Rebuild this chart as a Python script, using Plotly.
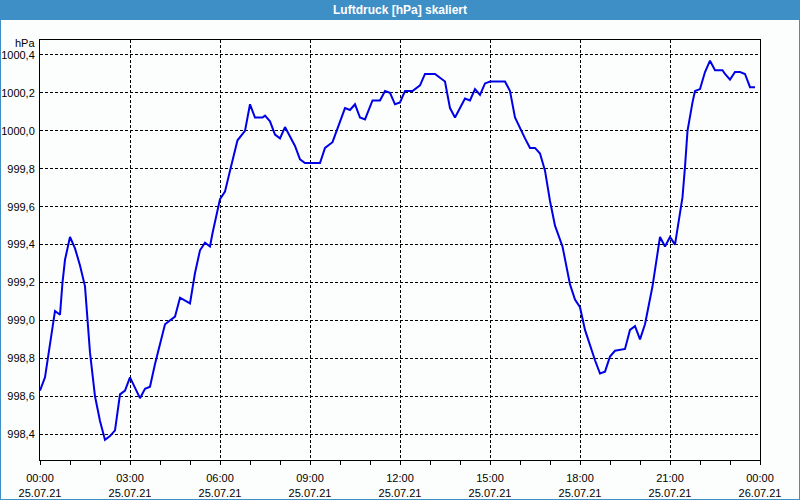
import plotly.graph_objects as go

times = ["00:00","00:10","00:30","00:40","00:45","00:50","01:00","01:10","01:20","01:30",
         "01:40","01:50","02:00","02:10","02:20","02:30","02:40","02:50","03:00","03:20",
         "03:30","03:40","03:50","04:10","04:30","04:40","05:00","05:10","05:20","05:30",
         "05:40","05:45","06:00","06:10","06:20","06:35","06:50","07:00","07:10","07:25",
         "07:30","07:40","07:50","08:00","08:10","08:30","08:40","08:50","09:10","09:20",
         "09:30","09:45","10:10","10:20","10:30","10:40","10:50","11:05","11:20","11:30",
         "11:40","11:50","12:00","12:10","12:25","12:40","12:50","13:10","13:30","13:40",
         "13:50","14:10","14:20","14:30","14:40","14:50","15:00","15:30","15:40","15:50",
         "16:10","16:20","16:30","16:40","16:50","17:00","17:10","17:25","17:40","17:50",
         "18:00","18:10","18:30","18:40","18:50","19:00","19:10","19:30","19:40","19:50",
         "20:00","20:10","20:25","20:40","20:50","21:00","21:10","21:15","21:25","21:30",
         "21:35","21:45","21:50","22:00","22:10","22:20","22:30","22:45","22:50","23:00",
         "23:10","23:20","23:30","23:40","23:50"]
pressure = [998.63,998.70,999.05,999.03,999.20,999.32,999.44,999.38,999.29,999.18,
            998.83,998.60,998.47,998.37,998.39,998.42,998.61,998.63,998.70,998.59,
            998.64,998.65,998.77,998.98,999.02,999.12,999.09,999.25,999.37,999.41,
            999.39,999.46,999.64,999.68,999.79,999.95,1000.00,1000.14,1000.07,1000.07,
            1000.08,1000.05,999.98,999.96,1000.02,999.92,999.85,999.83,999.83,999.83,
            999.91,999.94,1000.12,1000.11,1000.14,1000.07,1000.06,1000.16,1000.16,1000.21,
            1000.20,1000.14,1000.15,1000.21,1000.21,1000.24,1000.30,1000.30,1000.26,1000.12,
            1000.07,1000.17,1000.16,1000.22,1000.19,1000.25,1000.26,1000.26,1000.21,1000.07,
            999.96,999.91,999.91,999.88,999.79,999.63,999.50,999.39,999.19,999.11,
            999.07,998.95,998.79,998.72,998.73,998.81,998.84,998.85,998.95,998.97,
            998.90,998.98,999.18,999.44,999.39,999.44,999.40,999.49,999.65,999.81,
            1000.00,1000.15,1000.21,1000.22,1000.31,1000.37,1000.32,1000.32,1000.30,1000.27,
            1000.31,1000.31,1000.30,1000.23,1000.23]

x_tick_vals = ["2021-07-25 00:00","2021-07-25 03:00","2021-07-25 06:00","2021-07-25 09:00",
               "2021-07-25 12:00","2021-07-25 15:00","2021-07-25 18:00","2021-07-25 21:00",
               "2021-07-26 00:00"]
x_tick_text = ["00:00<br>25.07.21","03:00<br>25.07.21","06:00<br>25.07.21","09:00<br>25.07.21",
               "12:00<br>25.07.21","15:00<br>25.07.21","18:00<br>25.07.21","21:00<br>25.07.21",
               "00:00<br>26.07.21"]
y_tick_vals = [998.4, 998.6, 998.8, 999.0, 999.2, 999.4, 999.6, 999.8, 1000.0, 1000.2, 1000.4]

title_text = "Luftdruck [hPa] skaliert"
unit_text = "hPa"

x = ["2021-07-25 " + t for t in times]

fig = go.Figure(go.Scatter(x=x, y=pressure, mode="lines",
                           line=dict(color="#0000e6", width=2), hoverinfo="skip"))

font = "Liberation Sans, Arial, sans-serif"
W, H = 800, 500
L, R, T, B = 40, 40, 40, 40
pw, ph = W - L - R, H - T - B

def px(xp):
    return (xp - L) / pw

def py(yp):
    return (H - B - yp) / ph

fig.update_layout(
    width=W, height=H,
    margin=dict(l=L, r=R, t=T, b=B, autoexpand=False),
    paper_bgcolor="#fcfefe", plot_bgcolor="#fcfefe",
    separators=", ",
    showlegend=False,
    font=dict(family=font, size=11, color="black"),
    xaxis=dict(type="date", range=["2021-07-25 00:00", "2021-07-26 00:00"],
               tickvals=x_tick_vals, ticktext=x_tick_text, automargin=False,
               showgrid=True, gridcolor="black", gridwidth=1, griddash="3px,2px",
               showline=True, linecolor="black", linewidth=1, mirror=True,
               ticks="outside", ticklen=4, tickcolor="black",
               minor=dict(dtick=3600000, ticks="outside", ticklen=4, tickcolor="black", showgrid=False),
               zeroline=False, tickfont=dict(size=11, family=font), ticklabelstandoff=4),
    yaxis=dict(range=[998.264, 1000.479], tickvals=y_tick_vals, tickformat=".1f",
               automargin=False,
               showgrid=True, gridcolor="black", gridwidth=1, griddash="3px,2px",
               showline=True, linecolor="black", linewidth=1, mirror=True,
               ticks="", zeroline=False, tickfont=dict(size=11, family=font),
               ticklabelstandoff=2),
    shapes=[
        dict(type="rect", xref="paper", yref="paper", x0=px(0), x1=px(800), y0=py(20), y1=py(0),
             fillcolor="#3d8fc6", line=dict(width=0), layer="above"),
        dict(type="line", xref="paper", yref="paper", x0=px(0.5), x1=px(0.5), y0=py(500), y1=py(0),
             line=dict(color="#3d8fc6", width=1)),
        dict(type="line", xref="paper", yref="paper", x0=px(799.5), x1=px(799.5), y0=py(500), y1=py(0),
             line=dict(color="#3d8fc6", width=1)),
        dict(type="line", xref="paper", yref="paper", x0=px(0), x1=px(800), y0=py(499.5), y1=py(499.5),
             line=dict(color="#3d8fc6", width=1)),
    ],
    annotations=[
        dict(text="<b>" + title_text + "</b>", xref="paper", yref="paper", x=px(400), y=py(10),
             xanchor="center", yanchor="middle", showarrow=False,
             font=dict(color="white", size=12, family=font)),
        dict(text=unit_text, xref="paper", yref="paper", x=px(37), y=py(43),
             xanchor="right", yanchor="middle", showarrow=False,
             font=dict(color="black", size=11, family=font)),
    ],
)

fig.write_html("out.html")
